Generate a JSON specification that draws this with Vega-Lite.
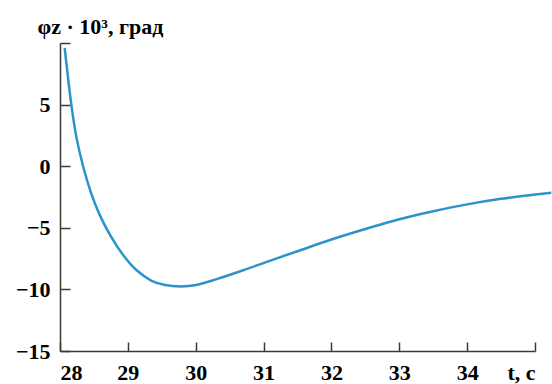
{
  "$schema": "https://vega.github.io/schema/vega-lite/v6.json",
  "width": 475,
  "height": 308,
  "autosize": {"type": "none"},
  "padding": {"left": 60, "top": 43, "right": 17, "bottom": 33},
  "background": "white",
  "config": {
    "view": {"stroke": null},
    "axis": {
      "grid": false,
      "domainColor": "#3a3a3a",
      "domainWidth": 1.5,
      "tickColor": "#3a3a3a",
      "tickWidth": 1.5,
      "labelFont": "Liberation Serif",
      "labelFontWeight": "bold",
      "labelFontSize": 22,
      "labelColor": "black",
      "titleFont": "Liberation Serif",
      "titleFontWeight": "bold",
      "titleFontSize": 22,
      "titleColor": "black"
    }
  },
  "data": {
    "values": [
      {"t": 28.069, "phi": 9.6},
      {"t": 28.167, "phi": 5.0},
      {"t": 28.24, "phi": 2.4},
      {"t": 28.34, "phi": 0.0},
      {"t": 28.46, "phi": -2.2},
      {"t": 28.585, "phi": -3.95},
      {"t": 28.75, "phi": -5.7},
      {"t": 28.93, "phi": -7.2},
      {"t": 29.13, "phi": -8.45},
      {"t": 29.35, "phi": -9.3},
      {"t": 29.55, "phi": -9.65},
      {"t": 29.78, "phi": -9.76},
      {"t": 30.01, "phi": -9.64},
      {"t": 30.31, "phi": -9.17},
      {"t": 30.7, "phi": -8.45},
      {"t": 31.09, "phi": -7.68},
      {"t": 31.5, "phi": -6.9},
      {"t": 32.0, "phi": -5.95},
      {"t": 32.5, "phi": -5.1},
      {"t": 33.0, "phi": -4.3},
      {"t": 33.5, "phi": -3.65},
      {"t": 34.0, "phi": -3.1},
      {"t": 34.5, "phi": -2.65},
      {"t": 35.0, "phi": -2.3},
      {"t": 35.24, "phi": -2.15}
    ]
  },
  "mark": {"type": "line", "interpolate": "catmull-rom", "color": "#2b93c9", "strokeWidth": 2.5, "clip": false},
  "encoding": {
    "x": {
      "field": "t",
      "type": "quantitative",
      "scale": {"domain": [28, 35], "nice": false, "zero": false},
      "axis": {
        "values": [28, 29, 30, 31, 32, 33, 34, 35],
        "tickSize": -9,
        "labelPadding": 20,
        "labelExpr": "datum.value == 35 ? 't, c' : datum.label",
        "title": null
      }
    },
    "y": {
      "field": "phi",
      "type": "quantitative",
      "scale": {"domain": [-15, 10], "nice": false, "zero": false},
      "axis": {
        "values": [-15, -10, -5, 0, 5, 10],
        "tickSize": -10,
        "labelPadding": 20,
        "labelExpr": "datum.value == 10 ? '' : datum.label",
        "title": "φz · 10³, град",
        "titleAngle": 0,
        "titleAlign": "left",
        "titleBaseline": "alphabetic",
        "titleX": -23,
        "titleY": -10
      }
    }
  }
}
